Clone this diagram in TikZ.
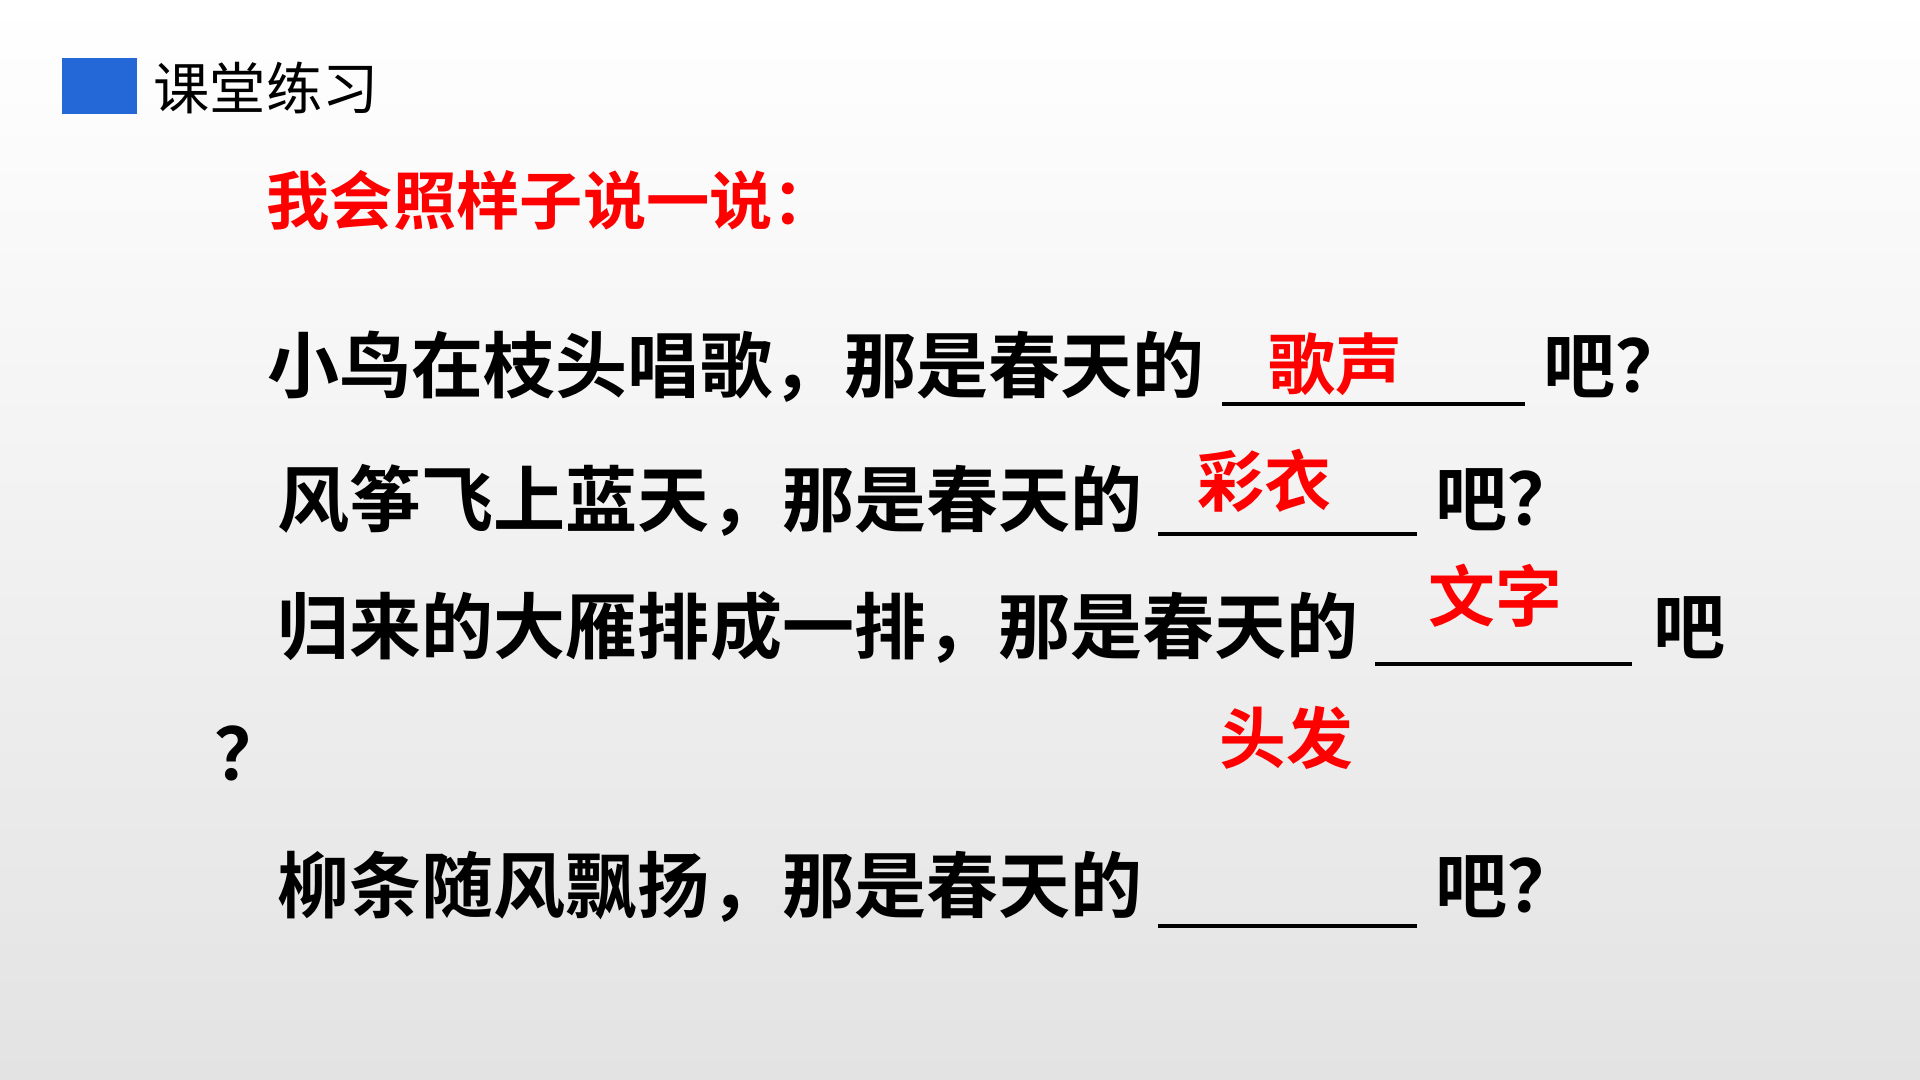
\documentclass[tikz,border=0pt]{standalone}
\usepackage{fontspec}
\newfontfamily\cjk{Noto Sans CJK SC}
\newfontfamily\cjkb{Noto Sans CJK SC Bold}
\definecolor{slideblue}{HTML}{2468D8}
\definecolor{answerred}{HTML}{FF0000}
\tikzset{
  line/.style={anchor=west, inner sep=0pt, font=\cjkb\fontsize{20.5}{24}\selectfont},
  answer/.style={inner sep=0pt, text=answerred, font=\cjkb\fontsize{19}{23}\selectfont},
  blank/.style={line width=1.3pt}
}
\begin{document}
\begin{tikzpicture}
  \useasboundingbox (0,0) rectangle (19.2,10.8);
  % background
  \shade[top color=white, bottom color=black!11] (0,0) rectangle (19.2,10.8);
  % header
  \fill[slideblue] (0.62,9.66) rectangle (1.37,10.22);
  \node[anchor=west, inner sep=0pt, font=\cjk\fontsize{16}{19}\selectfont] (head) at (1.53,9.92) {课堂练习};
  \node[anchor=west, inner sep=0pt, text=answerred, font=\cjkb\fontsize{18}{22}\selectfont] (task) at (2.66,8.80) {我会照样子说一说：};

  % sentence 1
  \node[line] (s1) at (2.67,7.13) {小鸟在枝头唱歌，那是春天的};
  \coordinate (b1a) at (12.22,6.76);
  \coordinate (b1b) at (15.25,6.76);
  \draw[blank] (b1a) -- (b1b);
  \node[line] (e1) at (15.43,7.13) {吧？};
  \node[answer] (a1) at (13.35,7.16) {歌声};

  % sentence 2
  \node[line] (s2) at (2.77,5.80) {风筝飞上蓝天，那是春天的};
  \coordinate (b2a) at (11.58,5.46);
  \coordinate (b2b) at (14.17,5.46);
  \draw[blank] (b2a) -- (b2b);
  \node[line] (e2) at (14.35,5.80) {吧？};
  \node[answer] (a2) at (12.64,5.99) {彩衣};

  % sentence 3
  \node[line] (s3) at (2.77,4.52) {归来的大雁排成一排，那是春天的};
  \coordinate (b3a) at (13.75,4.16);
  \coordinate (b3b) at (16.32,4.16);
  \draw[blank] (b3a) -- (b3b);
  \node[line] (e3) at (16.53,4.52) {吧};
  \node[line] (q3) at (2.14,3.27) {？};
  \node[answer] (a3) at (14.95,4.84) {文字};
  \node[answer] (a4) at (12.86,3.42) {头发};

  % sentence 4
  \node[line] (s4) at (2.77,1.93) {柳条随风飘扬，那是春天的};
  \coordinate (b4a) at (11.58,1.54);
  \coordinate (b4b) at (14.17,1.54);
  \draw[blank] (b4a) -- (b4b);
  \node[line] (e4) at (14.35,1.93) {吧？};
\end{tikzpicture}
\end{document}
